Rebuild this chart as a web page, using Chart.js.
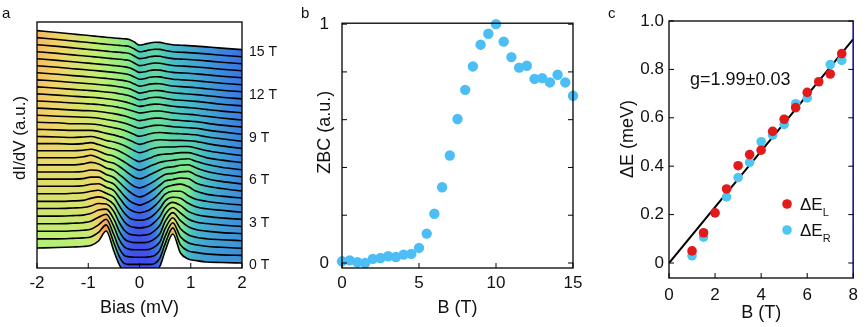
<!DOCTYPE html>
<html>
<head>
<meta charset="utf-8">
<title>Zeeman splitting of coherence peaks</title>
<script src="https://cdn.jsdelivr.net/npm/chart.js@4.4.1/dist/chart.umd.min.js"></script>
<style>
  body { margin: 0; background: #fff; }
  #fig { position: relative; width: 865px; height: 327px; overflow: hidden;
         font-family: "Liberation Sans", Arial, sans-serif; color: #111; }
  #fig canvas { position: absolute; top: 0; }
  .tag { position: absolute; top: 5px; font-size: 15px; line-height: 1; }
</style>
</head>
<body>
<div id="fig">
  <canvas id="panelA" width="290" height="327" style="left:0"></canvas>
  <canvas id="panelB" width="300" height="327" style="left:290px"></canvas>
  <canvas id="panelC" width="285" height="327" style="left:580px"></canvas>
  <div class="tag" style="left:2px">a</div>
  <div class="tag" style="left:301px">b</div>
  <div class="tag" style="left:608px">c</div>
</div>
<script>
// ---- (a) dI/dV waterfall, one row per field (0 T .. 15 T, 0.5 T apart)
const BIAS = [-2, -1.6, -1.3, -1.1, -0.95, -0.8, -0.65, -0.5, -0.4, -0.3, -0.2, -0.1, 0,
              0.1, 0.2, 0.3, 0.4, 0.5, 0.65, 0.8, 0.95, 1.1, 1.3, 1.6, 2];
const FIELDS = [0, 0.5, 1, 1.5, 2, 2.5, 3, 3.5, 4, 4.5, 5, 5.5, 6, 6.5, 7, 7.5, 8, 8.5, 9, 9.5,
                10, 10.5, 11, 11.5, 12, 12.5, 13, 13.5, 14, 14.5, 15];
const DIDV = [
  [20,20.5,21,21.5,22.5,27,37,17,4,-4,-5,-5,-5,-5,-5,-4,2,17,34,15,9,7.5,6,5.5,5],
  [22,22,22.5,23,24,28.5,36,18,5,-2.5,-3.5,-3.5,-3.5,-3.5,-3.5,-2.5,3,17,33,16,10,8.5,7,6,5.5],
  [22.5,22.5,23,23.5,24.5,29,34.5,19,6,-1.5,-3,-3.5,-3.5,-3.5,-3,-1.5,4,17.5,31,17,11,9,7.5,6.5,5.5],
  [23,23,23.5,24,25.5,29.5,32.5,20,7.5,0,-2.5,-3,-3,-3,-2.5,0,5,18,29,18,12,9.5,8,7,6],
  [23.5,23.5,24,24.5,26,29.5,30.5,20.5,9,1,-2,-3,-3,-3,-2,1,6,18,27,19,13,10,8.5,7,6],
  [24,24,24.5,25,26.5,29,28.5,21,10.5,2.5,-1.5,-2.5,-3,-2.5,-1.5,2,7.5,18,25,19.5,13.5,10.5,9,7.5,6],
  [24,24,24.5,25,27,28.5,26.5,21,12,4,-0.5,-2,-2.5,-2,-0.5,3.5,9,18,23,20,14,11,9,7.5,6],
  [24.5,24.5,25,25.5,27,28,25,21,13,5.5,0.5,-1.5,-2,-1.5,0.5,4.5,10,17.5,21,20,15,11.5,9.5,8,6],
  [25,25,25,25.5,27,27.5,24,20.5,14,7,2,-0.5,-1.5,-0.5,1.5,5.5,11,17,20,20,15.5,12,10,8,6],
  [25,25,25,25.5,27,27,23,20,14.5,8.5,3.5,0.5,-1,0.5,3,6.5,11.5,16.5,19,20,17.5,13,10,8,6],
  [25,25,25,25.5,27,26.5,22.5,19.5,15,10,5.5,2,0,1.5,4.5,8,12,16,17.5,19,18.5,14,11,8.5,6],
  [25,25,25,26,27.5,26,22,19.5,15.5,11.5,7,3.5,2,3.5,6,9,12.5,15.5,16.5,18,18.5,15,11.5,8.5,6],
  [25,25,25,26,27.5,25,21.5,19.5,16.5,13,9,5.5,4,5.5,8,10.5,13,15,16,17.5,18,15,11.5,8.5,6],
  [25,25,25,25.5,26.5,24.5,21.5,19.5,17,14,10.5,7.5,5.5,7,9.5,11.5,13.5,14.5,15.5,16.5,17,14.5,11.5,8.5,6],
  [25,25,24.5,25,26,24,21.5,19.5,17.5,15,12,9,7,8.5,10.5,12.5,14,14.5,15,16,16,14,11,8.5,6],
  [25,24.5,24,24.5,25,23.5,21,19.5,18,16,13.5,10.8,8.8,10,12,13.5,14.3,14.5,14.5,15,15,13.5,11,8.5,6],
  [25,24.5,24,24,24,23,21,19.5,18,16.5,14.3,12,10,11.2,13,14.2,14.6,14.4,14,14,13.7,13,11,8.5,6],
  [25,24.5,23.5,23.5,23.3,22.5,21,19.5,18.5,17,15,12.8,11,12,13.5,14.5,14.8,14.4,13.8,13.5,13,12.5,10.5,8.5,6],
  [25,24,23.5,23,22.7,22,20.7,19.5,18.5,17.2,15.4,13.5,12,12.8,14,14.8,15,14.4,13.5,13,12.5,12,10.3,8.3,6],
  [25,24,23,22.5,22.3,21.6,20.6,19.5,18.5,17.3,15.7,14,12.5,13.2,14.3,15,15,14.3,13.2,12.6,12,11.5,10,8,6],
  [25,24,23,22.5,22,21.5,20.5,19.5,18.5,17.5,16,14.5,13,13.5,14.5,15,15,14.3,13,12.3,11.7,11,9.7,8,6],
  [25,23.8,22.7,22,21.6,21,20.2,19.2,18.3,17.3,16,14.2,12.5,13.2,14.3,14.8,14.7,13.8,12.6,11.9,11.3,10.7,9.5,7.8,6],
  [24.9,23.6,22.4,21.7,21.2,20.6,19.8,19,18.1,17.2,16,14,12,12.7,14,14.5,14.4,13.5,12.2,11.6,11,10.4,9.3,7.6,5.9],
  [24.8,23.5,22.2,21.4,20.9,20.2,19.5,18.7,17.9,17.1,15.9,13.8,11.6,12.4,13.7,14.2,14.1,13.2,11.9,11.3,10.7,10.1,9.1,7.5,5.8],
  [24.8,23.3,22,21.2,20.6,19.9,19.2,18.4,17.7,17,15.8,13.6,11.5,12.2,13.5,14,13.9,12.9,11.6,11,10.5,9.9,8.9,7.4,5.8],
  [24.7,23.2,21.8,21,20.3,19.6,18.9,18.1,17.5,16.9,15.8,13.5,11.2,11.9,13.2,13.8,13.6,12.6,11.3,10.8,10.3,9.7,8.7,7.3,5.7],
  [24.6,23,21.6,20.7,20,19.3,18.6,17.8,17.3,16.7,15.7,13.4,11,11.6,12.9,13.5,13.3,12.3,11,10.5,10.1,9.5,8.6,7.2,5.6],
  [24.6,22.9,21.4,20.5,19.8,19,18.3,17.5,17.1,16.6,15.7,13.3,10.7,11.3,12.6,13.3,13.1,12,10.8,10.3,9.9,9.3,8.5,7.1,5.6],
  [24.5,22.8,21.3,20.3,19.6,18.8,18.1,17.3,16.9,16.5,15.6,13.2,10.6,11.2,12.4,13.1,12.9,11.8,10.6,10.1,9.7,9.2,8.3,7,5.5],
  [24.5,22.6,21.1,20.1,19.4,18.6,17.9,17.1,16.7,16.3,15.5,13.1,10.3,11,12.2,12.9,12.7,11.6,10.4,9.9,9.5,9,8.2,6.9,5.4],
  [24.4,22.5,21,20,19.3,18.5,17.8,17,16.6,16.2,15.5,13,10,10.8,12,12.8,12.6,11.5,10.3,9.8,9.4,8.9,8.1,6.9,5.4]
];
const CURVE_STEP = 7.1;               // vertical offset between neighbouring fields
const T_LABEL_FIELDS = [0, 3, 6, 9, 12, 15];
const T_LABELS = ['0 T', '3 T', '6 T', '9 T', '12 T', '15 T'];

// ---- (b) zero-bias conductance
const ZBC_B = [0, 0.5, 1, 1.5, 2, 2.5, 3, 3.5, 4, 4.5, 5, 5.5, 6, 6.5, 7, 7.5, 8, 8.5, 9, 9.5,
               10, 10.5, 11, 11.5, 12, 12.5, 13, 13.5, 14, 14.5, 15];
const ZBC = [0.007, 0.011, 0.003, 0.0, 0.017, 0.021, 0.028, 0.025, 0.035, 0.038, 0.063, 0.123,
             0.206, 0.317, 0.45, 0.603, 0.725, 0.823, 0.914, 0.96, 1.0, 0.927, 0.862, 0.818,
             0.826, 0.771, 0.774, 0.756, 0.788, 0.756, 0.70];

// ---- (c) peak splitting
const DEL_B = [1, 1.5, 2, 2.5, 3, 3.5, 4, 4.5, 5, 5.5, 6, 6.5, 7, 7.5];
const DEL = [0.050, 0.125, 0.207, 0.306, 0.402, 0.448, 0.466, 0.544, 0.594, 0.642, 0.705, 0.749, 0.781, 0.865];
const DER_B = [1, 1.5, 2.5, 3, 3.5, 4, 4.5, 5, 5.5, 6, 7, 7.5];
const DER = [0.030, 0.107, 0.273, 0.353, 0.416, 0.501, 0.528, 0.573, 0.658, 0.682, 0.820, 0.837];
const FIT_B = [0, 8];
const FIT_E = [0.0, 0.925];

Chart.defaults.font.family = '"Liberation Sans", Arial, sans-serif';
Chart.defaults.color = '#111';

// colour map for the waterfall fill
const TONE = [[0, [85, 45, 215]], [0.12, [65, 80, 235]], [0.25, [58, 128, 226]], [0.4, [72, 192, 198]],
              [0.52, [118, 232, 140]], [0.64, [190, 240, 115]], [0.76, [242, 212, 105]],
              [0.86, [246, 170, 95]], [1, [236, 98, 66]]];

function tone(t) {
  for (let j = 1; j < TONE.length; j++) {
    if (t <= TONE[j][0]) {
      const [t0, c0] = TONE[j - 1], [t1, c1] = TONE[j];
      const f = (t - t0) / (t1 - t0);
      const c = c0.map((v, n) => Math.round(v + (c1[n] - v) * f));
      return 'rgb(' + c.join(',') + ')';
    }
  }
  return 'rgb(' + TONE[TONE.length - 1][1].join(',') + ')';
}

// colour level follows the conductance itself, with a left/right tilt growing with field
function level(i, k) {
  const f = i / 30;
  const t = 0.48 + 0.02 * (DIDV[i][k] - 15) - 0.06 * BIAS[k] * f + 0.04 * f;
  return Math.min(0.95, Math.max(0.03, t));
}

function bandFill(chart, i) {
  const area = chart.chartArea;
  if (!area) return 'rgba(0,0,0,0)';
  const xs = chart.scales.x;
  const lo = BIAS[0], hi = BIAS[BIAS.length - 1];
  const g = chart.ctx.createLinearGradient(xs.getPixelForValue(lo), 0, xs.getPixelForValue(hi), 0);
  BIAS.forEach((b, k) => g.addColorStop((b - lo) / (hi - lo), tone(level(i, k))));
  return g;
}

// box + inward tick marks
const frame = {
  id: 'frame',
  afterDatasetsDraw(chart, args, opts) {
    const {ctx, chartArea: a} = chart;
    const len = 5;
    ctx.save();
    ctx.lineWidth = 1.3;
    ctx.strokeStyle = '#000';
    ctx.strokeRect(a.left, a.top, a.right - a.left, a.bottom - a.top);
    if (opts.rightColor) {
      ctx.strokeStyle = opts.rightColor;
      ctx.beginPath();
      ctx.moveTo(a.right, a.top);
      ctx.lineTo(a.right, a.bottom);
      ctx.stroke();
      ctx.strokeStyle = '#000';
    }
    ctx.lineWidth = 1;
    (opts.marks || []).forEach(m => {
      const sc = chart.scales[m.scale];
      sc.ticks.forEach(t => {
        const p = sc.getPixelForValue(t.value);
        m.sides.forEach(side => {
          ctx.beginPath();
          if (side === 'bottom') { ctx.moveTo(p, a.bottom); ctx.lineTo(p, a.bottom - len); }
          if (side === 'left') { ctx.moveTo(a.left, p); ctx.lineTo(a.left + len, p); }
          if (side === 'right') { ctx.moveTo(a.right, p); ctx.lineTo(a.right - len, p); }
          ctx.stroke();
        });
      });
    });
    ctx.restore();
  }
};

// free text placed relative to the plot box
const notes = {
  id: 'notes',
  afterDraw(chart, args, opts) {
    const {ctx, chartArea: a} = chart;
    (opts.items || []).forEach(n => {
      ctx.save();
      ctx.fillStyle = '#111';
      ctx.font = n.size + 'px "Liberation Sans", Arial, sans-serif';
      ctx.textAlign = n.align || 'left';
      ctx.textBaseline = 'middle';
      ctx.translate(a.left + n.dx, a.top + n.dy);
      if (n.rotate) ctx.rotate(-Math.PI / 2);
      ctx.fillText(n.text, 0, 0);
      ctx.restore();
    });
  }
};

// legend with subscripts for panel c
const key = {
  id: 'key',
  afterDraw(chart, args, opts) {
    const {ctx, chartArea: a} = chart;
    chart.data.datasets.forEach(ds => {
      if (!ds.key) return;
      const x = a.left + opts.dx, y = a.top + opts.dy + ds.key.row * opts.gap;
      ctx.save();
      ctx.fillStyle = ds.backgroundColor;
      ctx.beginPath();
      ctx.arc(x, y, ds.pointRadius, 0, Math.PI * 2);
      ctx.fill();
      ctx.fillStyle = '#111';
      ctx.textBaseline = 'alphabetic';
      ctx.font = '17px "Liberation Sans", Arial, sans-serif';
      ctx.fillText('ΔE', x + 13, y + 6);
      const w = ctx.measureText('ΔE').width;
      ctx.font = '11px "Liberation Sans", Arial, sans-serif';
      ctx.fillText(ds.key.sub, x + 13 + w, y + 12);
      ctx.restore();
    });
  }
};

const noGrid = {display: false, drawTicks: false};
const noBorder = {display: false};

// ---------- panel a
const waterfall = DIDV.map((row, i) => ({
  label: FIELDS[i] + ' T',
  data: row.map((v, k) => ({x: BIAS[k], y: v + CURVE_STEP * i})),
  borderColor: '#000',
  borderWidth: 1.6,
  pointRadius: 0,
  cubicInterpolationMode: 'monotone',
  fill: 'start',
  backgroundColor: i === 0 ? '#fff' : (c => bandFill(c.chart, i))
}));

new Chart(document.getElementById('panelA'), {
  type: 'line',
  data: {datasets: waterfall},
  options: {
    responsive: false, animation: false, events: [],
    layout: {padding: {top: 22}},
    plugins: {
      legend: {display: false}, tooltip: {enabled: false},
      frame: {marks: [{scale: 'x', sides: ['bottom']}]},
      notes: {items: [{text: 'dI/dV (a.u.)', dx: -17, dy: 116, size: 17, rotate: true, align: 'center'}]}
    },
    scales: {
      x: {
        type: 'linear', min: -2, max: 2,
        ticks: {stepSize: 1, padding: 5, font: {size: 17}},
        grid: noGrid, border: noBorder,
        title: {display: true, text: 'Bias (mV)', font: {size: 18}, padding: {top: 0, bottom: 8}},
        afterFit: s => { s.height = 59; }
      },
      y: {
        min: 0, max: 246, ticks: {display: false}, grid: noGrid, border: noBorder,
        afterFit: s => { s.width = 37; }
      },
      field: {
        position: 'right', min: 0, max: 246, grid: noGrid, border: noBorder,
        ticks: {padding: 7, font: {size: 14}, callback: (v, i) => T_LABELS[i]},
        afterBuildTicks: s => { s.ticks = T_LABEL_FIELDS.map(b => ({value: CURVE_STEP * b / 0.5 + 2.5})); },
        afterFit: s => { s.width = 48; }
      }
    }
  },
  plugins: [frame, notes]
});

// ---------- panel b
new Chart(document.getElementById('panelB'), {
  type: 'scatter',
  data: {datasets: [{
    label: 'ZBC',
    data: ZBC_B.map((b, k) => ({x: b, y: ZBC[k]})),
    backgroundColor: '#4DBEF5', borderWidth: 0, pointRadius: 5.2, clip: false
  }]},
  options: {
    responsive: false, animation: false, events: [],
    layout: {padding: {top: 23, right: 17}},
    plugins: {
      legend: {display: false}, tooltip: {enabled: false},
      frame: {marks: [{scale: 'x', sides: ['bottom']}, {scale: 'y', sides: ['left', 'right']}]},
      notes: {items: [{text: 'ZBC (a.u.)', dx: -17, dy: 109, size: 18, rotate: true, align: 'center'}]}
    },
    scales: {
      x: {
        min: 0, max: 15,
        ticks: {stepSize: 5, padding: 5, font: {size: 17}},
        grid: noGrid, border: noBorder,
        title: {display: true, text: 'B (T)', font: {size: 18}, padding: {top: 0, bottom: 8}},
        afterFit: s => { s.height = 59; }
      },
      y: {
        min: -0.021, max: 1.004,
        ticks: {stepSize: 0.2, includeBounds: false, padding: 13, font: {size: 17},
                callback: v => (Math.abs(v) < 1e-6 ? '0' : Math.abs(v - 1) < 1e-6 ? '1' : '')},
        grid: noGrid, border: noBorder,
        afterFit: s => { s.width = 52; }
      }
    }
  },
  plugins: [frame, notes]
});

// ---------- panel c
new Chart(document.getElementById('panelC'), {
  type: 'scatter',
  data: {datasets: [
    {label: 'ΔE_L', data: DEL_B.map((b, k) => ({x: b, y: DEL[k]})),
     backgroundColor: '#E31A1C', borderWidth: 0, pointRadius: 4.8, order: 0, clip: false,
     key: {sub: 'L', row: 0}},
    {label: 'ΔE_R', data: DER_B.map((b, k) => ({x: b, y: DER[k]})),
     backgroundColor: '#4EC6EF', borderWidth: 0, pointRadius: 4.8, order: 1, clip: false,
     key: {sub: 'R', row: 1}},
    {label: 'fit', data: FIT_B.map((b, k) => ({x: b, y: FIT_E[k]})),
     showLine: true, borderColor: '#000', borderWidth: 2, pointRadius: 0, order: 2}
  ]},
  options: {
    responsive: false, animation: false, events: [],
    layout: {padding: {top: 21, right: 7}},
    plugins: {
      legend: {display: false}, tooltip: {enabled: false},
      frame: {rightColor: '#1818d0',
              marks: [{scale: 'x', sides: ['bottom']}, {scale: 'y', sides: ['left', 'right']}]},
      notes: {items: [
        {text: 'ΔE (meV)', dx: -41, dy: 118, size: 18, rotate: true, align: 'center'},
        {text: 'g=1.99±0.03', dx: 21, dy: 59, size: 18}
      ]},
      key: {dx: 118, dy: 183, gap: 26}
    },
    scales: {
      x: {
        min: 0, max: 8,
        ticks: {stepSize: 2, padding: 7, font: {size: 17}},
        grid: noGrid, border: noBorder,
        title: {display: true, text: 'B (T)', font: {size: 18}, padding: {top: 0, bottom: 3}},
        afterFit: s => { s.height = 49; }
      },
      y: {
        min: -0.062, max: 1.0,
        ticks: {stepSize: 0.2, includeBounds: false, padding: 5, font: {size: 17},
                callback: v => (Math.abs(v) < 1e-6 ? '0' : v.toFixed(1))},
        grid: noGrid, border: noBorder,
        afterFit: s => { s.width = 89; }
      }
    }
  },
  plugins: [frame, notes, key]
});
</script>
</body>
</html>
